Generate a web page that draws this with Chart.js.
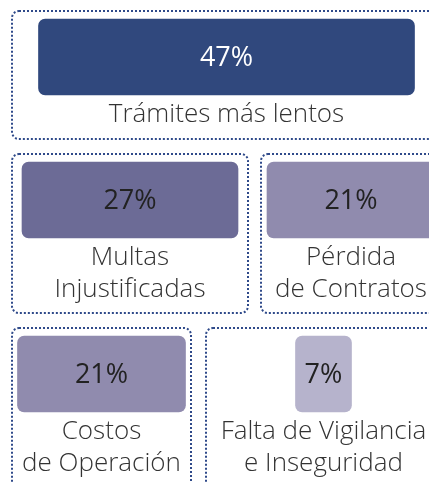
<!DOCTYPE html>
<html>
<head>
<meta charset="utf-8">
<script src="https://cdn.jsdelivr.net/npm/chart.js@4/dist/chart.umd.min.js"></script>
<style>
  html, body { margin: 0; padding: 0; background: #fff; }
  #wrap { width: 429px; height: 483px; position: relative; }
</style>
</head>
<body>
<div id="wrap"><canvas id="cardChart"></canvas></div>
<script>
// data
const categories = [
    ['Trámites más lentos'],
    ['Multas', 'Injustificadas'],
    ['Pérdida', 'de Contratos'],
    ['Costos', 'de Operación'],
    ['Falta de Vigilancia', 'e Inseguridad']
];
const values = [47, 27, 21, 21, 7];

// styles
const barColors = ['#30487d', '#6c6b96', '#908bae', '#908bae', '#b6b3cc'];
const valueColors = ['#ffffff', '#222222', '#222222', '#222222', '#222222'];

// layout of the dotted cards: [left, right, top, bottom] in page px
const cardBoxes = [
    [12, 441, 11, 139],
    [12, 248, 154, 313],
    [261, 441, 154, 313],
    [12, 191, 328, 500],
    [206, 441, 328, 500]
];
const pxPerPercent = 8;
const barHeight = 76;
const barInset = 8;

document.addEventListener('DOMContentLoaded', () => {
    const ctx = document.getElementById('cardChart').getContext('2d');

    // bar width follows the value, centred in its card
    const points = values.map((v, i) => {
        const [l, r, t] = cardBoxes[i];
        const cx = (l + r) / 2;
        const half = v * pxPerPercent / 2;
        return { x: [cx - half, cx + half], y: t + barInset + barHeight / 2 };
    });

    const cardPlugin = {
        id: 'cards',
        beforeDatasetsDraw(chart) {
            const { ctx, scales: { x, y } } = chart;
            ctx.save();
            ctx.strokeStyle = '#2f4a8a';
            ctx.lineWidth = 2;
            ctx.setLineDash([2, 2]);
            cardBoxes.forEach(([l, r, t, b]) => {
                const px = x.getPixelForValue(l), py = y.getPixelForValue(t);
                ctx.beginPath();
                ctx.roundRect(px, py, x.getPixelForValue(r) - px, y.getPixelForValue(b) - py, 7);
                ctx.stroke();
            });
            ctx.restore();
        },
        afterDatasetsDraw(chart) {
            const { ctx } = chart;
            const meta = chart.getDatasetMeta(0);
            ctx.save();
            ctx.textAlign = 'center';
            ctx.textBaseline = 'middle';
            meta.data.forEach((bar, i) => {
                const { x, y, base, height } = bar.getProps(['x', 'y', 'base', 'height'], true);
                const cx = (x + base) / 2;
                ctx.fillStyle = valueColors[i];
                ctx.font = '400 27px "Open Sans"';
                ctx.fillText(values[i] + '%', cx, y + 1);
                ctx.fillStyle = '#333333';
                ctx.font = '300 26px "Open Sans"';
                categories[i].forEach((line, j) => {
                    ctx.fillText(line, cx, y + height / 2 + 20 + j * 32);
                });
            });
            ctx.restore();
        }
    };

    new Chart(ctx, {
        type: 'bar',
        data: {
            labels: categories.map(c => c.join(' ')),
            datasets: [{
                data: points,
                backgroundColor: barColors,
                borderRadius: 7,
                borderSkipped: false,
                barThickness: barHeight
            }]
        },
        options: {
            indexAxis: 'y',
            responsive: true, maintainAspectRatio: false,
            animation: false,
            layout: { padding: 0 },
            scales: {
                x: { type: 'linear', min: 0, max: 429, display: false, offset: false },
                y: { type: 'linear', min: 0, max: 483, reverse: true, display: false, offset: false }
            },
            plugins: {
                legend: { display: false },
                tooltip: { enabled: false }
            }
        },
        plugins: [cardPlugin]
    });
});
</script>
</body>
</html>
